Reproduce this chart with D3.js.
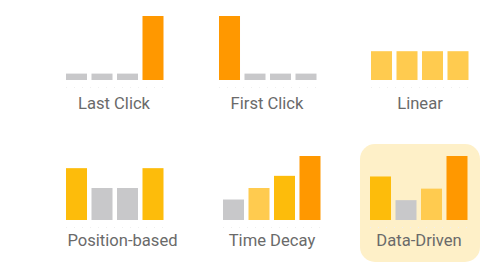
<!DOCTYPE html>
<html>
<head>
<meta charset="utf-8">
<script src="https://cdn.jsdelivr.net/npm/d3@7"></script>
<style>
  html, body { margin: 0; padding: 0; background: #fff; }
  svg { display: block; }
</style>
</head>
<body>
<div id="chart"></div>
<script>
// attribution models, one small panel each
const models = ['Last Click', 'First Click', 'Linear', 'Position-based', 'Time Decay', 'Data-Driven'];
const touchpoints = ['t1', 't2', 't3', 't4'];

// credit per touchpoint (relative, 100 = tallest bar)
const lastClickValues = [10, 10, 10, 100];
const firstClickValues = [100, 10, 10, 10];
const linearValues = [45, 45, 45, 45];
const positionValues = [81, 50, 50, 81];
const timeDecayValues = [32, 50, 69, 100];
const dataDrivenValues = [68, 31, 49, 100];

// colour class per bar
const lastClickTones = ['grey', 'grey', 'grey', 'orange'];
const firstClickTones = ['orange', 'grey', 'grey', 'grey'];
const linearTones = ['light', 'light', 'light', 'light'];
const positionTones = ['amber', 'grey', 'grey', 'amber'];
const timeDecayTones = ['grey', 'light', 'amber', 'orange'];
const dataDrivenTones = ['amber', 'grey', 'light', 'orange'];

const panelValues = [lastClickValues, firstClickValues, linearValues, positionValues, timeDecayValues, dataDrivenValues];
const panelTones = [lastClickTones, firstClickTones, linearTones, positionTones, timeDecayTones, dataDrivenTones];

const width = 499, height = 274;
const colors = { grey: '#c8c8ca', light: '#ffcb4f', amber: '#fdbc0b', orange: '#ff9800' };

// layout of each panel: left edge of bars, baseline, label centre and baseline
const layout = [
    { x: 66, base: 80, labelX: 114, labelY: 108.5 },
    { x: 219, base: 80, labelX: 267, labelY: 108.5 },
    { x: 371, base: 80, labelX: 420, labelY: 108.5 },
    { x: 66, base: 220, labelX: 122.5, labelY: 246 },
    { x: 223, base: 220, labelX: 272, labelY: 246 },
    { x: 370, base: 220, labelX: 419, labelY: 246 }
];
const groupWidth = 97.5;
const maxBar = 64;

const svg = d3.select('#chart')
    .append('svg')
    .attr('width', width)
    .attr('height', height);

// highlight behind the data-driven panel
svg.append('rect')
    .attr('x', 360)
    .attr('y', 144)
    .attr('width', 120)
    .attr('height', 118)
    .attr('rx', 15)
    .attr('fill', '#fef0c8');

const yScale = d3.scaleLinear()
    .domain([0, 100])
    .range([0, maxBar]);

models.forEach((name, i) => {
    const pos = layout[i];
    const xScale = d3.scaleBand()
        .domain(touchpoints)
        .range([pos.x, pos.x + groupWidth])
        .paddingInner(0.176)
        .paddingOuter(0);

    const g = svg.append('g').attr('class', 'panel');

    g.selectAll('rect.bar')
        .data(touchpoints.map((t, j) => ({ t, v: panelValues[i][j], tone: panelTones[i][j] })))
        .enter()
        .append('rect')
        .attr('class', 'bar')
        .attr('x', d => xScale(d.t))
        .attr('y', d => pos.base - yScale(d.v))
        .attr('width', xScale.bandwidth())
        .attr('height', d => yScale(d.v))
        .attr('fill', d => colors[d.tone]);

    // faint dotted baseline under the bars
    g.append('line')
        .attr('x1', pos.x)
        .attr('x2', pos.x + groupWidth)
        .attr('y1', pos.base + 7.5)
        .attr('y2', pos.base + 7.5)
        .attr('stroke', '#efefef')
        .attr('stroke-width', 1)
        .attr('stroke-dasharray', '1,7');

    g.append('text')
        .attr('x', pos.labelX)
        .attr('y', pos.labelY)
        .attr('text-anchor', 'middle')
        .style('font-family', 'Roboto, sans-serif')
        .style('font-size', '16.6px')
        .style('fill', '#6a6a6a')
        .text(name);
});
</script>
</body>
</html>
